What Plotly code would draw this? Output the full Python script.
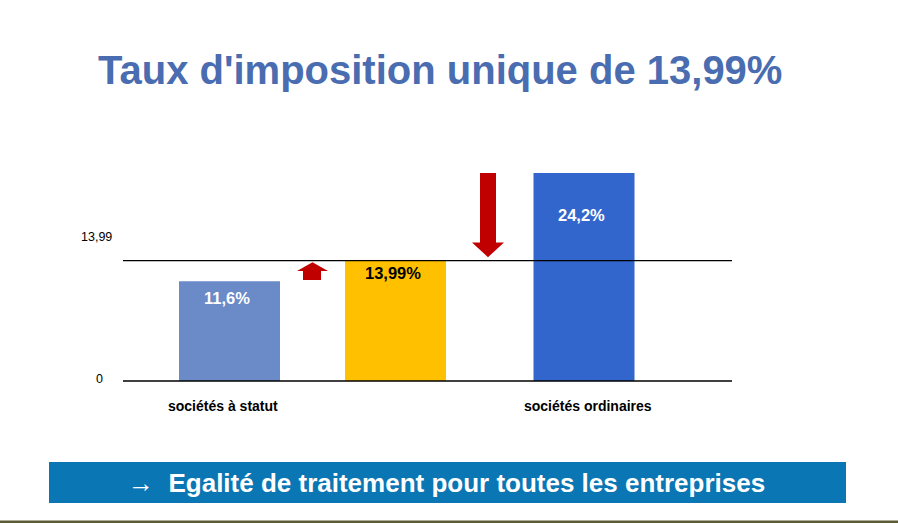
import plotly.graph_objects as go

# donnees du graphique
categories = ["sociétés à statut", "", "sociétés ordinaires"]
valeurs = [11.6, 13.99, 24.2]
etiquettes = ["11,6%", "13,99%", "24,2%"]
couleurs = ["#6a8ac8", "#ffc000", "#3366cc"]
couleurs_texte = ["white", "black", "white"]
taux_unique = 13.99
ticks_y = [0, 13.99]
ticks_texte = ["0", "13,99"]

# position des barres (en pixels de la diapo)
pos_x = [229.5, 395.5, 584]
largeur = 101
# decalage des etiquettes sous le haut de la barre (px)
decal_etiq = [-17, -12, -42]

fig = go.Figure()

fig.add_trace(go.Bar(
    x=pos_x, y=valeurs, width=largeur,
    marker=dict(color=couleurs, line=dict(width=0)),
    hoverinfo="skip",
))

# etiquettes des barres
for xc, v, t, c, d in zip(pos_x, valeurs, etiquettes, couleurs_texte, decal_etiq):
    fig.add_annotation(x=xc - 3, y=v, yshift=d, text="<b>" + t + "</b>", showarrow=False,
                       yanchor="middle", font=dict(family="Liberation Sans", size=16.5, color=c))

# lignes 0 et 13,99
for v in ticks_y:
    fig.add_shape(type="line", xref="x", yref="y", x0=123, x1=732, y0=v, y1=v,
                  line=dict(color="black", width=1.3))

# etiquettes de l'axe y
fig.add_annotation(x=114, y=ticks_y[1], yshift=24, text=ticks_texte[1], showarrow=False,
                   xanchor="right", font=dict(family="Liberation Sans", size=12.5, color="black"))
fig.add_annotation(x=105, y=ticks_y[0], yshift=2, text=ticks_texte[0], showarrow=False,
                   xanchor="right", font=dict(family="Liberation Sans", size=12.5, color="black"))

# categories sous l'axe
for xc, lab in zip(pos_x, categories):
    if lab:
        fig.add_annotation(x=xc - 7 if xc < 300 else xc + 4, y=0, yshift=-25, text="<b>" + lab + "</b>",
                           showarrow=False, font=dict(family="Liberation Sans", size=14, color="black"))

# fleches rouges
rouge = "#c00000"
fig.add_shape(type="path", xref="x", yref="y", fillcolor=rouge, line=dict(width=0),
              path="M 303 11.75 L 321 11.75 L 321 12.8 L 328 12.8 L 312.5 13.8 "
                   "L 297 12.8 L 303 12.8 Z")
fig.add_shape(type="path", xref="x", yref="y", fillcolor=rouge, line=dict(width=0),
              path="M 480 24.2 L 496 24.2 L 496 16.1 L 504 16.1 L 488 14.4 "
                   "L 472 16.1 L 480 16.1 Z")

# titre
fig.add_annotation(xref="paper", yref="paper", x=440 / 898, y=(523 - 70) / 523, yanchor="middle",
                   text="<b>Taux d'imposition unique de 13,99%</b>", showarrow=False,
                   font=dict(family="Liberation Sans", size=40, color="#4a6cb0"))

# bandeau du bas
fig.add_shape(type="rect", xref="paper", yref="paper", x0=49 / 898, x1=846 / 898,
              y0=(523 - 503) / 523, y1=(523 - 462) / 523, fillcolor="#0a76b4", line=dict(width=0))
fig.add_annotation(xref="paper", yref="paper", x=446 / 898, y=(523 - 483) / 523, yanchor="middle",
                   text="\u2192  <b>Egalité de traitement pour toutes les entreprises</b>", showarrow=False,
                   font=dict(family="Liberation Sans", size=26, color="white"))
fig.add_shape(type="rect", xref="paper", yref="paper", x0=0, x1=1, y0=0, y1=2.5 / 523,
              fillcolor="#5c5c34", line=dict(width=0))

fig.update_layout(
    width=898, height=523,
    margin=dict(l=0, r=0, t=0, b=0),
    paper_bgcolor="white", plot_bgcolor="white",
    showlegend=False,
    xaxis=dict(range=[0, 898], visible=False, fixedrange=True),
    yaxis=dict(range=[-142 / 8.6, 381 / 8.6], visible=False, fixedrange=True),
)

fig.write_html("out.html", config={"displayModeBar": False},
               post_script="document.body.style.margin='0';document.body.style.overflow='hidden';")
